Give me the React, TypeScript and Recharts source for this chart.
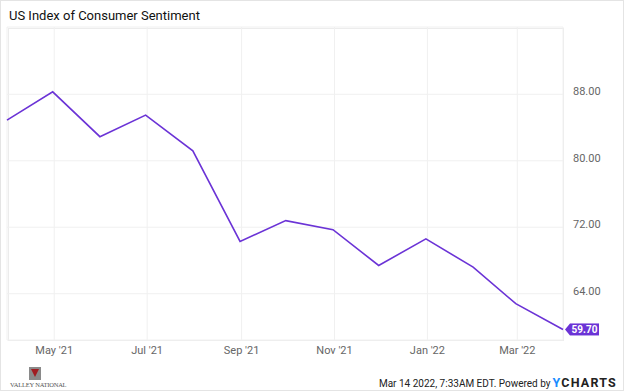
import { LineChart, Line, XAxis, YAxis, CartesianGrid } from 'recharts';

const dates = [
  '2021-03-31', '2021-04-30', '2021-05-31', '2021-06-30', '2021-07-31', '2021-08-31',
  '2021-09-30', '2021-10-31', '2021-11-30', '2021-12-31', '2022-01-31', '2022-02-28', '2022-03-31',
];
const sentiment = [84.9, 88.3, 82.9, 85.5, 81.2, 70.3, 72.8, 71.7, 67.4, 70.6, 67.2, 62.8, 59.7];
const xTickDates = ['2021-05-01', '2021-07-01', '2021-09-01', '2021-11-01', '2022-01-01', '2022-03-01'];
const yTicks = [64, 72, 80, 88];
const MONTHS = ['Jan', 'Feb', 'Mar', 'Apr', 'May', 'Jun', 'Jul', 'Aug', 'Sep', 'Oct', 'Nov', 'Dec'];

const toTs = (d: string) => new Date(d + 'T00:00:00Z').getTime();
const data = dates.map((d, i) => ({ t: toTs(d), value: sentiment[i] }));
const xTicks = xTickDates.map(toTs);

const PURPLE = '#6b33d6';
const FONT = 'Roboto, "Noto Sans", sans-serif';

function fmtMonth(ts: number) {
  const d = new Date(ts);
  return `${MONTHS[d.getUTCMonth()]} '${String(d.getUTCFullYear()).slice(2)}`;
}

function LastLabel(props: any) {
  const { x, y, index, value } = props;
  if (index !== data.length - 1) return null;
  const left = x + 2;
  return (
    <g>
      <polygon points={`${left},${y} ${left + 5},${y - 6} ${left + 5},${y + 6}`} fill={PURPLE} />
      <rect x={left + 5} y={y - 6} width={29} height={12} fill={PURPLE} />
      <text x={left + 19.5} y={y + 3.5} textAnchor="middle" fill="#fff" fontSize={10} fontWeight={700} fontFamily={FONT}>
        {Number(value).toFixed(2)}
      </text>
    </g>
  );
}

export default function App() {
  return (
    <div style={{ position: 'absolute', left: 0, top: 0, width: 624, height: 391, background: '#fff', fontFamily: FONT, boxSizing: 'border-box', border: '1px solid #e4e4e4' }}>
      <div style={{ position: 'absolute', left: 8, top: 7, fontSize: 13, color: '#111' }}>US Index of Consumer Sentiment</div>
      <div style={{ position: 'absolute', left: 7, top: 27, width: 556, height: 313, border: '1px solid #ececec', boxSizing: 'border-box', pointerEvents: 'none' }} />
      <div style={{ position: 'absolute', left: -1, top: -1 }}>
        <LineChart width={624} height={391} data={data} margin={{ top: 27, right: 0, bottom: 31, left: 7 }}>
          <CartesianGrid stroke="#f0f0f0" strokeWidth={1} />
          <XAxis
            dataKey="t"
            type="number"
            scale="time"
            domain={[data[0].t, data[data.length - 1].t]}
            ticks={xTicks}
            tickFormatter={fmtMonth}
            axisLine={false}
            tickLine={false}
            height={20}
            tick={{ fill: '#666', fontSize: 11, fontFamily: FONT }}
            tickMargin={0}
          />
          <YAxis
            orientation="right"
            type="number"
            domain={[58.43, 96.1]}
            ticks={yTicks}
            tickFormatter={(v: number) => v.toFixed(2)}
            axisLine={false}
            tickLine={false}
            width={61}
            tick={{ fill: '#666', fontSize: 11, fontFamily: FONT, textAnchor: 'start', dy: -3 }}
            tickMargin={4}
          />
          <Line
            type="linear"
            dataKey="value"
            stroke={PURPLE}
            strokeWidth={1.6}
            dot={false}
            isAnimationActive={false}
            label={<LastLabel />}
          />
        </LineChart>
      </div>
      <div style={{ position: 'absolute', left: 9, top: 366, width: 50, height: 22 }}>
        <div style={{ position: 'absolute', left: 19, top: 0, width: 12, height: 13, background: '#8a8a8a' }}>
          <div style={{ position: 'absolute', left: 2, top: 2, width: 0, height: 0, borderLeft: '4px solid transparent', borderRight: '4px solid transparent', borderTop: '8px solid #a01c22' }} />
        </div>
        <div style={{ position: 'absolute', left: 0, top: 14, fontSize: 6.5, fontFamily: 'serif', color: '#555', whiteSpace: 'nowrap', letterSpacing: -0.2 }}>VALLEY NATIONAL</div>
      </div>
      <div style={{ position: 'absolute', right: 6, top: 374, fontSize: 10, color: '#222', whiteSpace: 'nowrap', display: 'flex', alignItems: 'baseline' }}>
        <span>Mar 14 2022, 7:33AM EDT. Powered by </span>
        <span style={{ fontSize: 12.5, fontWeight: 700, letterSpacing: 1.2, marginLeft: 2 }}>
          <span style={{ color: '#1a8cff' }}>Y</span>
          <span style={{ color: '#222' }}>CHARTS</span>
        </span>
      </div>
    </div>
  );
}
